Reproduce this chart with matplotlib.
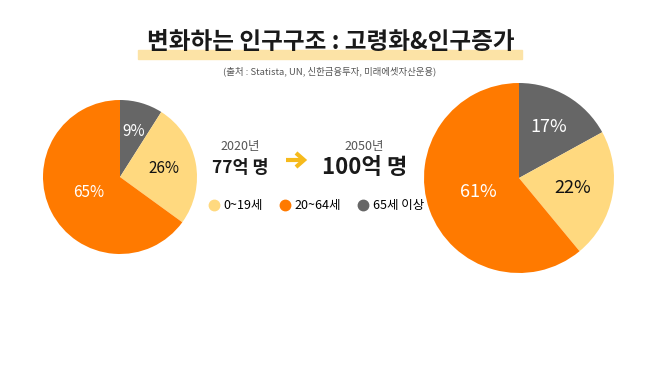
import numpy as np
import matplotlib.pyplot as plt
from matplotlib.lines import Line2D

plt.rcParams['font.family'] = ['Noto Sans CJK KR', 'DejaVu Sans']

groups = ['0~19세', '20~64세', '65세 이상']
colors = ['#FFD97F', '#FF7A00', '#666666']

share_2020 = [26, 65, 9]
share_2050 = [22, 61, 17]
pop_2020 = '77억 명'
pop_2050 = '100억 명'

W, H = 658, 370
fig = plt.figure(figsize=(W / 100, H / 100), dpi=100)
fig.patch.set_facecolor('white')


def px(x, y):
    # pixel position (from top-left) -> figure fraction
    return x / W, 1 - y / H


def pie_axes(cx, cy, r):
    ax = fig.add_axes([(cx - r) / W, (H - cy - r) / H, 2 * r / W, 2 * r / H])
    return ax


def draw_pie(ax, vals, fsize):
    # clockwise from 12 o'clock: gray, yellow, orange
    order = [2, 0, 1]
    v = [vals[i] for i in order]
    c = [colors[i] for i in order]
    ax.pie(v, colors=c, startangle=90, counterclock=False,
           radius=1, wedgeprops=dict(linewidth=0))
    ax.set_xlim(-1, 1)
    ax.set_ylim(-1, 1)
    ax.set_aspect('equal')
    ax.axis('off')
    txtcol = ['white', '#111111', 'white']
    dist = [0.62, 0.58, 0.45]
    start = 90.0
    for k, val in enumerate(v):
        mid = start - val * 3.6 / 2
        start -= val * 3.6
        r = dist[k]
        ax.text(r * np.cos(np.radians(mid)), r * np.sin(np.radians(mid)),
                f'{val}%', ha='center', va='center', color=txtcol[k],
                fontsize=fsize, fontweight='medium')


ax1 = pie_axes(120, 177, 77)
draw_pie(ax1, share_2020, 11)
ax2 = pie_axes(519, 178, 95)
draw_pie(ax2, share_2050, 13)

# title with highlight bar
hl = plt.Rectangle(px(138, 59), (522 - 138) / W, 9 / H, transform=fig.transFigure,
                   color='#FCE3A6', zorder=0)
fig.patches.append(hl)
fig.text(*px(331, 42), '변화하는 인구구조 : 고령화&인구증가', ha='center', va='center',
         fontsize=17, fontweight='bold', color='#1a1a1a')
fig.text(*px(330, 71), '(출처 : Statista, UN, 신한금융투자, 미래에셋자산운용)', ha='center',
         va='center', fontsize=6.8, color='#555555')

# population numbers
fig.text(*px(240, 147), '2020년', ha='center', va='center', fontsize=9, color='#555555')
fig.text(*px(240, 168), pop_2020, ha='center', va='center', fontsize=12.5,
         fontweight='bold', color='#1a1a1a')
fig.text(*px(364, 147), '2050년', ha='center', va='center', fontsize=9, color='#555555')
fig.text(*px(365, 167), pop_2050, ha='center', va='center', fontsize=16,
         fontweight='bold', color='#1a1a1a')
fig.patches.append(plt.Polygon([px(286, 160), px(303, 160)], closed=False,
                               transform=fig.transFigure, fill=False,
                               edgecolor='#F6BA1C', linewidth=3))
fig.patches.append(plt.Polygon([px(296, 153), px(304, 160), px(296, 167)], closed=False,
                               transform=fig.transFigure, fill=False,
                               edgecolor='#F6BA1C', linewidth=3, joinstyle='miter'))

# legend
handles = [Line2D([], [], marker='o', linestyle='', markersize=7.5,
                  markerfacecolor=c, markeredgecolor=c) for c in colors]
fig.legend(handles, groups, loc='center', bbox_to_anchor=px(316, 206), ncol=3,
           frameon=False, fontsize=9, handletextpad=0.3, columnspacing=1.25,
           handlelength=1.0)

fig.savefig('out.png', dpi=100, facecolor='white')
